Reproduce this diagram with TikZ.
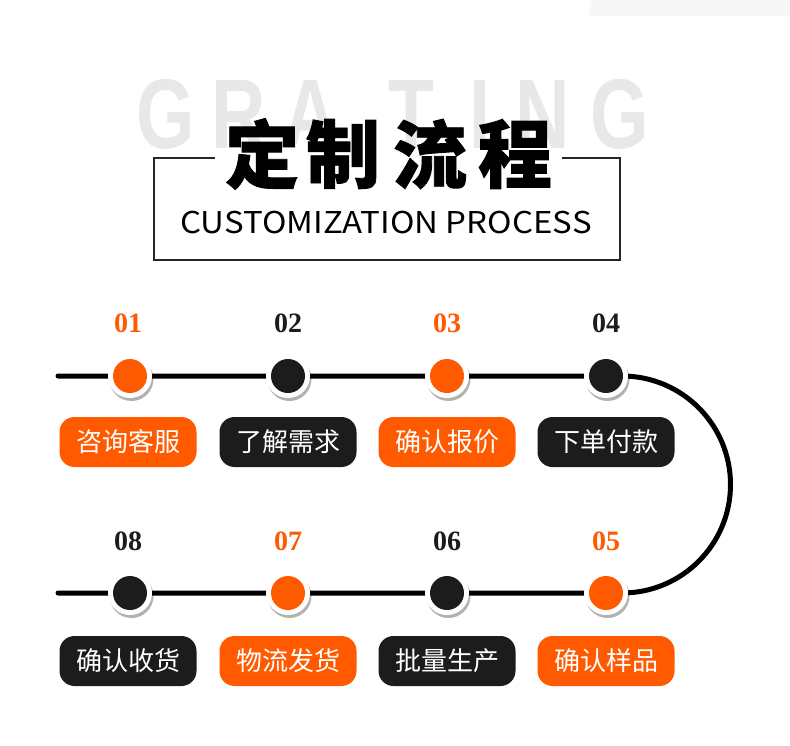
\documentclass[tikz,border=0pt]{standalone}
\usepackage{fontspec}
\setmainfont{Liberation Sans}
\newfontfamily\cjk{Noto Sans CJK SC}
\newfontfamily\cjkh[FakeBold=1.2]{Noto Sans CJK SC}
\newfontfamily\numfont{Liberation Serif}
\usetikzlibrary{shadows}
\definecolor{orng}{HTML}{FF5A00}
\definecolor{dark}{HTML}{1C1C1C}
\definecolor{ghost}{HTML}{E8E8E8}
\definecolor{ghostb}{HTML}{F7F7F7}
\begin{document}
\begin{tikzpicture}[x=1pt,y=-1pt,
  dot/.style={circle, fill=white, minimum size=44pt, inner sep=0pt,
    drop shadow={shadow xshift=1.5pt, shadow yshift=-3pt, opacity=0.3, fill=black}},
  core/.style={circle, fill=#1, minimum size=34pt, inner sep=0pt},
  tag/.style={rounded corners=15pt, fill=#1, minimum width=137pt, minimum height=50pt,
    text=white, font=\cjk\fontsize{26}{26}\selectfont, inner sep=0pt},
  num/.style={text=#1, font=\numfont\bfseries\fontsize{28}{28}\selectfont, inner sep=0pt},
  ghostletter/.style={text=ghost, font=\bfseries\fontsize{99}{99}\selectfont, anchor=base, inner sep=0pt, xscale=0.76},
  titlechar/.style={text=black, font=\cjkh\bfseries\fontsize{74}{74}\selectfont, inner sep=0pt},
  framepen/.style={draw=black!85, line width=1.5pt},
  track/.style={draw=black, line width=5pt, line cap=round}
]
\useasboundingbox (0,0) rectangle (790,745);
\fill[white] (0,0) rectangle (790,745);
% faint strip top right
\fill[ghostb] (592,0) -- (790,0) -- (790,16) -- (588,16) -- cycle;

% ghost word
\foreach \ch/\xx [count=\i] in {G/166,R/239,A/311,T/411,I/480,N/543,G/620}
  \node[ghostletter] (g\i) at (\xx,148) {\ch};

% frame
\draw[framepen] (215,158) -- (154,158) -- (154,260) -- (620,260) -- (620,158) -- (562,158);

% title
\node[titlechar] (c1) at (262,154) {定};
\node[titlechar] (c2) at (343,154) {制};
\node[titlechar] (c3) at (430,154) {流};
\node[titlechar] (c4) at (515,154) {程};
\node[font=\cjk\fontsize{30}{30}\selectfont, anchor=base, inner sep=0pt, xscale=1.1] (sub) at (386,233) {CUSTOMIZATION PROCESS};

% track
\coordinate (p1) at (130,376);
\coordinate (p2) at (288,376);
\coordinate (p3) at (447,376);
\coordinate (p4) at (606,376);
\coordinate (p5) at (606,593);
\coordinate (p6) at (447,593);
\coordinate (p7) at (288,593);
\coordinate (p8) at (130,593);
\coordinate (a) at (58,376);
\coordinate (b) at (58,593);
\coordinate (q4) at (622,376);
\path[track] (a) -- (p4) -- (q4) arc[start angle=-90, end angle=90, radius=108.5] -- (p5) -- (b);

% dots
\foreach \k/\c in {1/orng,2/dark,3/orng,4/dark,5/orng,6/dark,7/orng,8/dark}{
  \node[dot] (n\k) at (p\k) {};
  \node[core=\c] (m\k) at (n\k) {};
}

% numbers
\node[num=orng] (l1) at (128,323) {01};
\node[num=dark] (l2) at (288,323) {02};
\node[num=orng] (l3) at (447,323) {03};
\node[num=dark] (l4) at (606,323) {04};
\node[num=orng] (l5) at (606,541) {05};
\node[num=dark] (l6) at (447,541) {06};
\node[num=orng] (l7) at (288,541) {07};
\node[num=dark] (l8) at (128,541) {08};

% tags
\node[tag=orng] (t1) at (128,442) {咨询客服};
\node[tag=dark] (t2) at (288,442) {了解需求};
\node[tag=orng] (t3) at (447,442) {确认报价};
\node[tag=dark] (t4) at (606,442) {下单付款};
\node[tag=orng] (t5) at (606,661) {确认样品};
\node[tag=dark] (t6) at (447,661) {批量生产};
\node[tag=orng] (t7) at (288,661) {物流发货};
\node[tag=dark] (t8) at (128,661) {确认收货};
\end{tikzpicture}
\end{document}
